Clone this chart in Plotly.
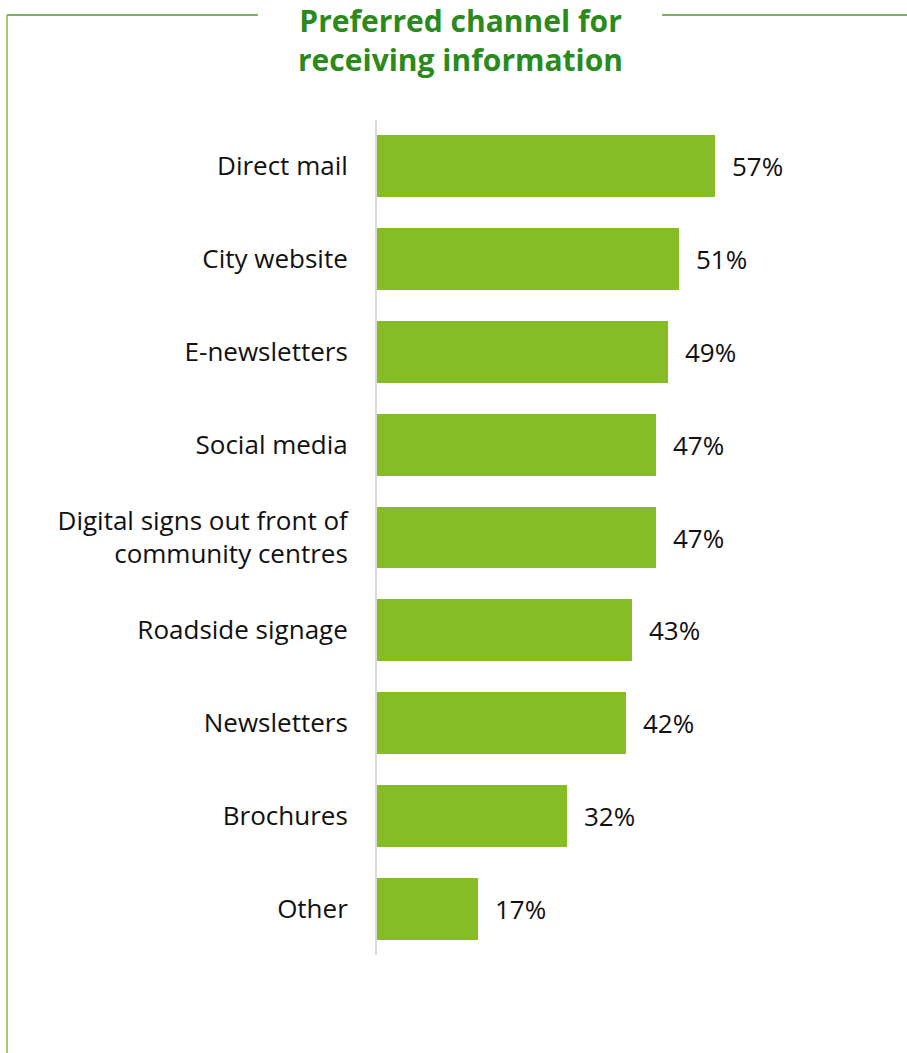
import plotly.graph_objects as go

categories = [
    "Direct mail",
    "City website",
    "E-newsletters",
    "Social media",
    "Digital signs out front of<br>community centres",
    "Roadside signage",
    "Newsletters",
    "Brochures",
    "Other",
]
values = [57, 51, 49, 47, 47, 43, 42, 32, 17]

W, H = 907, 1053
L, R, T, B = 377, 0, 120, 98
pw, ph = W - L - R, H - T - B
xmax = pw / 5.93

def px_x(p):
    return (p - L) / pw

def px_y(p):
    return (H - B - p) / ph

bar_green = "#86BC25"
title_green = "#2A8A1C"
text_font = dict(family="Open Sans", size=26, color="#111111")

fig = go.Figure(go.Bar(
    y=categories,
    x=values,
    orientation="h",
    marker=dict(color=bar_green, line=dict(width=0)),
    width=0.668,
    hoverinfo="skip",
))

for c, v in zip(categories, values):
    fig.add_annotation(
        x=v, y=c, xref="x", yref="y",
        text=f"{v}%", showarrow=False,
        xanchor="left", xshift=15,
        font=text_font,
    )

fig.add_annotation(
    x=px_x(460), y=px_y(40), xref="paper", yref="paper",
    text="<b>Preferred channel for<br>receiving information</b>",
    showarrow=False, xanchor="center", yanchor="middle",
    font=dict(family="Open Sans", size=30, color=title_green),
)

# frame lines around the panel
line_top = dict(color="#4E9A2E", width=1.5)
fig.add_shape(type="line", xref="paper", yref="paper",
              x0=px_x(7), x1=px_x(258), y0=px_y(15), y1=px_y(15), line=line_top)
fig.add_shape(type="line", xref="paper", yref="paper",
              x0=px_x(662), x1=px_x(907), y0=px_y(15), y1=px_y(15), line=line_top)
fig.add_shape(type="line", xref="paper", yref="paper",
              x0=px_x(7), x1=px_x(7), y0=px_y(15), y1=px_y(1053),
              line=dict(color="#7AC143", width=1.5))

fig.update_layout(
    width=W, height=H,
    margin=dict(l=L, r=R, t=T, b=B, autoexpand=False),
    paper_bgcolor="white", plot_bgcolor="white",
    showlegend=False,
    bargap=0,
    xaxis=dict(range=[0, xmax], visible=False, fixedrange=True),
    yaxis=dict(
        autorange="reversed",
        showgrid=False,
        showline=True, linecolor="#D9D9D9", linewidth=2,
        ticks="", ticklabelstandoff=22,
        tickfont=text_font,
        fixedrange=True,
    ),
)

fig.write_html("out.html")
